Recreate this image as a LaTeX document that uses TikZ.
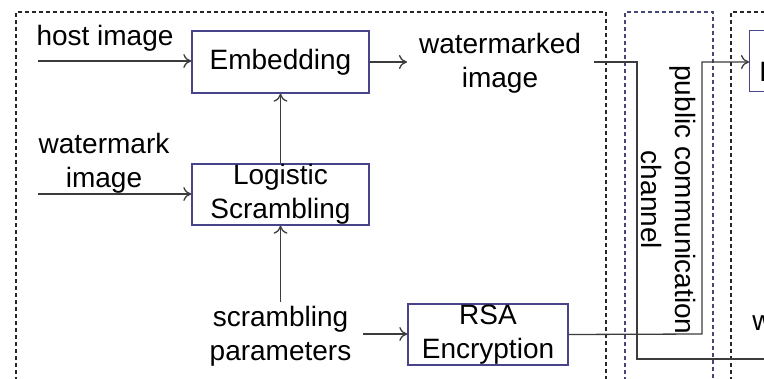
\documentclass[tikz,border=0pt]{standalone}
\usepackage{fontspec}
\setmainfont{Liberation Sans}
\usetikzlibrary{arrows.meta}
\definecolor{boxblue}{RGB}{72,68,140}
\definecolor{linegray}{RGB}{60,60,60}
\definecolor{dashgray}{RGB}{40,40,40}
\definecolor{dashblue}{RGB}{70,70,120}
\begin{document}
\begin{tikzpicture}[x=0.5pt,y=-0.5pt,
  font=\fontsize{14}{17}\selectfont,
  procbox/.style={draw=boxblue,line width=0.7pt,minimum width=88.5pt,minimum height=31pt,inner sep=0pt,align=center},
  lbl/.style={align=center,inner sep=0pt},
  conn/.style={draw=linegray,line width=0.65pt},
  arr/.style={conn,-{To[length=4pt,width=7pt]}},
  region/.style={dashgray,line width=0.6pt,dash pattern=on 2pt off 1.5pt},
  regionb/.style={dashblue,line width=0.6pt,dash pattern=on 2pt off 1.5pt}]
\useasboundingbox (0,0) rectangle (764,379);
\clip (0,0) rectangle (764,379);
\fill[white] (0,0) rectangle (764,379);
% dashed regions
\draw[region] (16,395) -- (16,12) -- (606,12) -- (606,395);
\draw[regionb] (625,395) -- (625,12) -- (713,12) -- (713,395);
\draw[region] (731,395) -- (731,12) -- (800,12);
% boxes
\node[procbox] (emb) at (280.5,62) {Embedding};
\node[procbox,minimum height=30.5pt] (log) at (280.5,194.5) {Logistic\\Scrambling};
\node[procbox,minimum width=80pt,minimum height=30.5pt] (rsa) at (488,334.5) {RSA\\Encryption};
\node[procbox,minimum width=40pt,minimum height=30.5pt,anchor=north west] (ext) at (749,30) {};
\node[lbl,anchor=west] (extt) at (759,72) {E};
% labels
\node[lbl] (host) at (105,38) {host image};
\node[lbl] (wmk) at (104,163) {watermark\\image};
\node[lbl] (par) at (280.5,336) {scrambling\\parameters};
\node[lbl] (wmd) at (500,63) {watermarked\\image};
\node[lbl,rotate=-90] (pub) at (668,200) {public communication\\channel};
\node[lbl,anchor=west] (wr) at (752,323) {w};
% free ends
\coordinate (hin) at (38,61);
\coordinate (win) at (38,194);
\coordinate (pout) at (363,334);
\coordinate (wout) at (594,62);
\coordinate (bend1) at (637,62);
\coordinate (bend2) at (637,359);
\coordinate (rend) at (764,359);
\coordinate (rb1) at (702,334);
\coordinate (rb2) at (702,62);
\coordinate (win2) at (407,62);
\coordinate (ptop) at (280.5,302);
% connectors
\draw[arr] (hin) -- (hin -| emb.west);
\draw[arr] (win) -- (win -| log.west);
\draw[arr] (log.north) -- (emb.south);
\draw[arr] (ptop) -- (log.south);
\draw[arr] (pout) -- (pout -| rsa.west);
\draw[arr] (emb.east) -- (win2);
\draw[conn] (wout) -- (bend1) -- (bend2) -- (rend);
\draw[arr] (rsa.east) -- (rb1) -- (rb2) -- (rb2 -| ext.west);
\end{tikzpicture}
\end{document}
